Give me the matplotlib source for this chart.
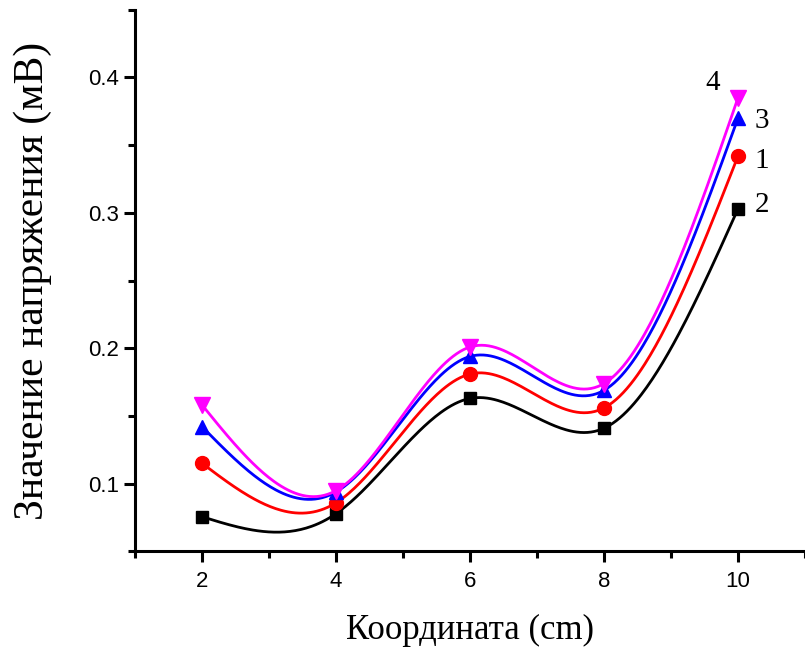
import numpy as np
import matplotlib
matplotlib.use("Agg")
import matplotlib.pyplot as plt
from matplotlib.ticker import MultipleLocator, FormatStrFormatter

x = [2, 4, 6, 8, 10]
curve1 = [0.115, 0.086, 0.181, 0.156, 0.342]   # red circles
curve2 = [0.0756, 0.078, 0.163, 0.141, 0.303]  # black squares
curve3 = [0.142, 0.094, 0.194, 0.169, 0.370]   # blue up triangles
curve4 = [0.158, 0.095, 0.201, 0.174, 0.385]   # magenta down triangles
names = ["1", "2", "3", "4"]


def natural_spline(xs, ys, n=300):
    # natural cubic spline through the points
    xs = np.asarray(xs, float)
    ys = np.asarray(ys, float)
    k = len(xs)
    h = np.diff(xs)
    A = np.zeros((k, k))
    b = np.zeros(k)
    A[0, 0] = A[-1, -1] = 1
    for i in range(1, k - 1):
        A[i, i - 1] = h[i - 1]
        A[i, i] = 2 * (h[i - 1] + h[i])
        A[i, i + 1] = h[i]
        b[i] = 6 * ((ys[i + 1] - ys[i]) / h[i] - (ys[i] - ys[i - 1]) / h[i - 1])
    M = np.linalg.solve(A, b)
    xx = np.linspace(xs[0], xs[-1], n)
    idx = np.clip(np.searchsorted(xs, xx) - 1, 0, k - 2)
    x0, x1 = xs[idx], xs[idx + 1]
    hh = x1 - x0
    yy = (M[idx] * (x1 - xx) ** 3 / (6 * hh) + M[idx + 1] * (xx - x0) ** 3 / (6 * hh)
          + (ys[idx] / hh - M[idx] * hh / 6) * (x1 - xx)
          + (ys[idx + 1] / hh - M[idx + 1] * hh / 6) * (xx - x0))
    return xx, yy


fig = plt.figure(figsize=(8.05, 6.48), dpi=100)
ax = fig.add_axes([0.168, 0.149, 0.832, 0.836])

series = [(curve2, "black", "s", 9), (curve1, "red", "o", 10),
          (curve3, "blue", "^", 10), (curve4, "magenta", "v", 11)]
for ys, col, mk, ms in series:
    xx, yy = natural_spline(x, ys)
    ax.plot(xx, yy, color=col, lw=2)
    ax.plot(x, ys, color=col, marker=mk, ms=ms, ls="none")

lab_font = dict(family="Liberation Serif", fontsize=21)
ax.text(10.25, curve2[-1] + 0.003, names[1], va="center", **lab_font)
ax.text(10.25, curve1[-1] - 0.004, names[0], va="center", **lab_font)
ax.text(10.25, curve3[-1] - 0.002, names[2], va="center", **lab_font)
ax.text(9.73, curve4[-1] + 0.011, names[3], ha="right", va="center", **lab_font)

ax.set_xlim(1, 11)
ax.set_ylim(0.05, 0.45)
ax.xaxis.set_major_locator(MultipleLocator(2))
ax.xaxis.set_minor_locator(MultipleLocator(1))
ax.yaxis.set_major_locator(MultipleLocator(0.1))
ax.yaxis.set_minor_locator(MultipleLocator(0.05))
ax.yaxis.set_major_formatter(FormatStrFormatter("%.1f"))
ax.set_xticks([2, 4, 6, 8, 10])
ax.set_yticks([0.1, 0.2, 0.3, 0.4])

for s in ["top", "right"]:
    ax.spines[s].set_visible(False)
for s in ["left", "bottom"]:
    ax.spines[s].set_linewidth(2.2)
ax.tick_params(which="major", length=8, width=2.2, labelsize=16, direction="out")
ax.tick_params(axis="x", which="major", pad=6)
ax.tick_params(which="minor", length=5, width=2.2, direction="out")
for t in ax.get_xticklabels() + ax.get_yticklabels():
    t.set_family("Liberation Sans")

ax.set_xlabel("Координата (cm)", family="Liberation Serif", fontsize=25, labelpad=16)
ax.set_ylabel("Значение напряжения (мВ)", family="Liberation Serif", fontsize=30, labelpad=26)

fig.savefig("out.png", dpi=100)
